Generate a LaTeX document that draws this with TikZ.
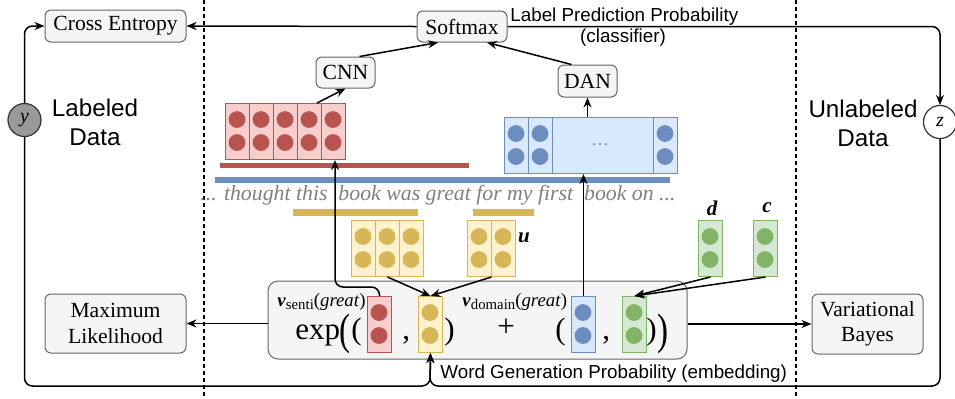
\documentclass[tikz,border=0pt]{standalone}
\usepackage{fontspec}
\setmainfont{Liberation Serif}
\setsansfont{Liberation Sans}
\usetikzlibrary{arrows.meta}

\definecolor{boxfill}{HTML}{F5F5F5}
\definecolor{boxline}{HTML}{666666}
\definecolor{redfill}{HTML}{F8CECC}
\definecolor{redline}{HTML}{B85450}
\definecolor{bluefill}{HTML}{DAE8FC}
\definecolor{blueline}{HTML}{6C8EBF}
\definecolor{yelfill}{HTML}{FFF2CC}
\definecolor{yelline}{HTML}{D6B656}
\definecolor{grnfill}{HTML}{D5E8D4}
\definecolor{grnline}{HTML}{82B366}
\definecolor{latentfill}{HTML}{999999}
\definecolor{textgray}{HTML}{808080}

\tikzset{
  box/.style={draw=boxline, fill=boxfill, line width=0.5pt, rounded corners=3pt, inner sep=0pt, align=center, font=\fontsize{10.8}{12.6}\selectfont},
  arr/.style={-{Stealth[length=5pt,width=4pt]}, line width=0.75pt},
  latent/.style={circle, draw=black!80, line width=0.6pt, minimum size=16.5pt, inner sep=0pt, font=\itshape\fontsize{10}{10}\selectfont},
  divider/.style={dash pattern=on 2pt off 1.5pt, line width=0.7pt},
  sidetext/.style={align=center, font=\sffamily\fontsize{12.1}{14.5}\selectfont},
  sanslabel/.style={inner sep=0pt, font=\sffamily\fontsize{9.4}{11}\selectfont},
  sentence/.style={inner sep=0pt, text=textgray, font=\itshape\fontsize{10.9}{12}\selectfont},
  formtext/.style={inner sep=0pt, font=\fontsize{15.5}{16}\selectfont},
  bigparen/.style={inner sep=0pt, font=\fontsize{22}{22}\selectfont},
  vlabel/.style={inner sep=0pt, font=\fontsize{9.4}{10}\selectfont},
  letter/.style={inner sep=0pt, font=\bfseries\itshape\fontsize{10.5}{11}\selectfont}
}

% word vector: name, left, top, columns, colour
\newcommand{\wvec}[5]{%
  \node[draw=#5line, fill=#5fill, line width=0.5pt, inner sep=0pt, minimum width=12pt*#4, minimum height=28pt, anchor=north west] (#1) at (#2,#3) {};
  \foreach \i in {1,...,#4} {
    \draw[#5line, line width=0.5pt] ({#2+24*\i},#3) -- ++(0,56);
    \fill[#5line] ({#2+24*\i-12},{#3+16.5}) circle (4.2pt) ({#2+24*\i-12},{#3+39.5}) circle (4.2pt);
  }
}

\newcommand{\vsub}[1]{\raisebox{-1.6pt}{\fontsize{7.4}{8}\selectfont #1}}
\newcommand{\narrow}[1]{\scalebox{0.75}[1]{#1}}

\begin{document}
\begin{tikzpicture}[x=0.5pt,y=-0.5pt]
  \useasboundingbox (0,0) rectangle (955,398);

  % labeled / unlabeled split
  \draw[divider] (204,0) -- (204,398);
  \draw[divider] (796,0) -- (796,398);

  \node[box, minimum width=70.5pt, minimum height=16pt] (ce) at (115.5,26) {Cross Entropy};
  \node[box, minimum width=45pt, minimum height=15.5pt] (smax) at (462,26.5) {Softmax};
  \node[box, minimum width=29.5pt, minimum height=15.5pt] (cnn) at (345.5,72.5) {CNN};
  \node[box, minimum width=29.5pt, minimum height=16pt] (dan) at (587.5,81) {DAN};
  \node[box, minimum width=70.5pt, minimum height=29.5pt] (ml) at (115.5,323.5) {Maximum\\Likelihood};
  \node[box, minimum width=55.5pt, minimum height=30pt] (vb) at (867.5,324) {Variational\\Bayes};
  \node[box, rounded corners=5pt, minimum width=209.5pt, minimum height=39pt] (formula) at (477.5,320) {};

  \node[latent, fill=latentfill] (ynode) at (24.5,120) {y};
  \node[latent, fill=white] (znode) at (940,122) {z};

  \node[sidetext] at (95,122) {Labeled\\Data};
  \node[sidetext] at (863,123) {Unlabeled\\Data};

  \node[sanslabel, anchor=base west] (lpp) at (510,21) {Label Prediction Probability};
  \node[sanslabel] at (623,38) {(classifier)};
  \node[sanslabel, anchor=base west] (wgp) at (440,378) {Word Generation Probability (embedding)};

  % sentence and its windows
  \fill[redline] (220,163) rectangle (469,168);
  \fill[blueline] (215,177) rectangle (670,183);
  \node[sentence, anchor=west] (sent) at (200,195) {... thought this\ \ book was great for my first\ \ book on ...};
  \fill[yelline] (293,209) rectangle (418,216);
  \fill[yelline] (473,209) rectangle (534,216);

  % vectors
  \wvec{redmat}{225}{103}{5}{red}
  \node[draw=blueline, fill=bluefill, line width=0.5pt, inner sep=0pt, minimum width=86.5pt, minimum height=28pt, anchor=north west] (bluemat) at (504,117) {};
  \draw[blueline, line width=0.5pt] (528,117) -- ++(0,56) (552,117) -- ++(0,56) (653,117) -- ++(0,56);
  \foreach \x in {516,540,665}
    \fill[blueline] (\x,133.5) circle (4.2pt) (\x,156.5) circle (4.2pt);
  \node[text=blueline, font=\fontsize{9}{9}\selectfont] at (600,145) {\dots};

  \wvec{yelA}{351}{220}{3}{yel}
  \wvec{yelB}{467}{220}{2}{yel}
  \node[letter] at (524,238) {u};
  \wvec{vecd}{698}{220}{1}{grn}
  \wvec{vecc}{753}{220}{1}{grn}
  \node[letter] at (712,208) {d};
  \node[letter] at (767,208) {c};

  % formula
  \node[vlabel, anchor=base west] (lsenti) at (277,306.5) {\textbf{\textit{v}}\vsub{senti}(\textit{great})};
  \node[vlabel, anchor=base west] (ldomain) at (462,306.5) {\textbf{\textit{v}}\vsub{domain}(\textit{great})};
  \node[formtext, anchor=base west] at (295,339) {exp};
  \node[bigparen, anchor=base west] at (339,344) {\narrow{(}};
  \node[formtext, anchor=base west] at (351,339) {(};
  \wvec{vsenti}{367}{296}{1}{red}
  \node[formtext, anchor=base west] at (402,339) {,};
  \wvec{vu}{418}{296}{1}{yel}
  \node[formtext, anchor=base west] at (444,339) {)};
  \node[formtext] at (506,328) {+};
  \node[formtext, anchor=base west] at (555,339) {(};
  \wvec{vdomain}{571}{296}{1}{blue}
  \node[formtext, anchor=base west] at (602,339) {,};
  \wvec{vc}{622}{296}{1}{grn}
  \node[formtext, anchor=base west] at (646,339) {)};
  \node[bigparen, anchor=base west] at (657,344) {\narrow{)}};

  % connectors
  \draw[arr] (smax.west) -- (ce.east);
  \draw[arr, rounded corners=4pt] (smax.east) -| (znode.north);
  \draw[arr, rounded corners=4pt] (ynode.north) |- (ce.west);
  \coordinate (base) at (430,386);
  \draw[arr, rounded corners=4pt] (ynode.south) |- (base) -- (vu.south);
  \draw[arr, rounded corners=4pt] (znode.south) |- (base) -- (vu.south);
  \draw[arr] (formula.west |- ml.east) -- (ml.east);
  \draw[arr] (formula.east |- vb.west) -- (vb.west);
  \draw[arr] ([xshift=-14.5pt]redmat.north east) -- (cnn.south);
  \draw[arr] ([xshift=7pt]cnn.north) -- ([xshift=-12pt]smax.south);
  \draw[arr] ([xshift=-8pt]dan.north) -- ([xshift=12.5pt]smax.south);
  \draw[arr] (dan.south |- bluemat.north) -- (dan.south);
  \draw[arr] (vdomain.north) -- (vdomain.north |- bluemat.south);
  \draw[arr, rounded corners=4pt] (vsenti.north) -- ++(0,-9) -| ([xshift=-5.5pt]redmat.south east);
  \draw[arr] (yelA.south) -- (vu.north);
  \draw[arr] (yelB.south) -- (vu.north);
  \draw[arr] (vecd.south) -- (vc.north);
  \draw[arr] (vecc.south) -- (vc.north);
\end{tikzpicture}
\end{document}
